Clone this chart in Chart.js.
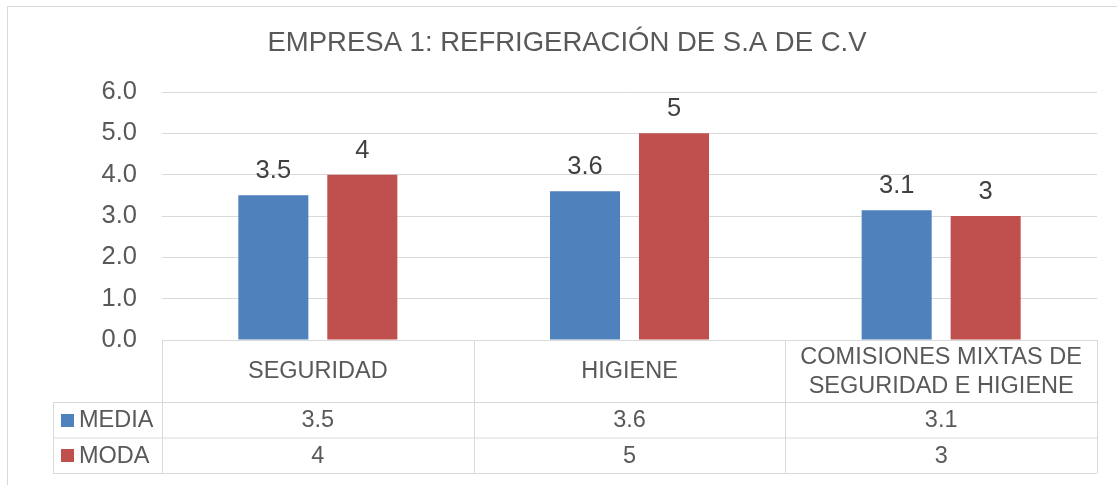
<!DOCTYPE html>
<html>
<head>
<meta charset="utf-8">
<script src="https://cdn.jsdelivr.net/npm/chart.js@4"></script>
<style>
  body { margin: 0; background: #fff; }
  #wrap { width: 1117px; height: 485px; position: relative; }
</style>
</head>
<body>
<div id="wrap"><canvas id="myChart"></canvas></div>
<script>
const categories = ["SEGURIDAD", "HIGIENE", ["COMISIONES MIXTAS DE", "SEGURIDAD E HIGIENE"]];
const seriesNames = ["MEDIA", "MODA"];
const media = [3.5, 3.6, 3.14];
const moda = [4, 5, 3];
const yTicks = [0, 1, 2, 3, 4, 5, 6];

const FONT = "'Liberation Sans', Arial, sans-serif";
const colors = ["#4F81BD", "#C0504D"];
const textColor = "#595959";
const lineColor = "#d9d9d9";

// media shows one decimal, moda as whole number
const fmt = [v => v.toFixed(1), v => String(v)];

const tablePlugin = {
  id: "tabla",
  afterDraw(chart) {
    const ctx = chart.ctx;
    const xs = chart.scales.x;
    const area = chart.chartArea;
    const n = categories.length;
    const catW = xs.width / n;
    const top = area.bottom;
    const headBottom = xs.bottom;
    const rowH = 35.5;
    const legLeft = 53;
    const bottom = headBottom + rowH * 2;

    ctx.save();
    // outer border of the chart object
    ctx.strokeStyle = lineColor;
    ctx.lineWidth = 1;
    ctx.strokeRect(7.5, 6.5, 1300, 700);

    // data labels above bars
    ctx.fillStyle = "#404040";
    ctx.font = "25.5px " + FONT;
    ctx.textAlign = "center";
    ctx.textBaseline = "alphabetic";
    chart.data.datasets.forEach((ds, d) => {
      chart.getDatasetMeta(d).data.forEach((bar, i) => {
        ctx.fillText(fmt[d](ds.data[i]), bar.x, bar.y - 17);
      });
    });

    // table grid
    ctx.beginPath();
    ctx.moveTo(xs.left, top + 0.5); ctx.lineTo(xs.right, top + 0.5);
    ctx.moveTo(legLeft, headBottom + 0.5); ctx.lineTo(xs.right, headBottom + 0.5);
    ctx.moveTo(legLeft, headBottom + rowH + 0.5); ctx.lineTo(xs.right, headBottom + rowH + 0.5);
    ctx.moveTo(legLeft, bottom + 0.5); ctx.lineTo(xs.right, bottom + 0.5);
    ctx.moveTo(legLeft + 0.5, headBottom); ctx.lineTo(legLeft + 0.5, bottom);
    for (let i = 0; i <= n; i++) {
      const px = Math.round(xs.left + i * catW) + 0.5;
      ctx.moveTo(px, top); ctx.lineTo(px, bottom);
    }
    ctx.stroke();

    // header labels
    ctx.fillStyle = textColor;
    ctx.font = "23.5px " + FONT;
    ctx.textBaseline = "middle";
    const headMid = (top + headBottom) / 2 + 1;
    categories.forEach((lab, i) => {
      const cx = xs.getPixelForValue(i);
      const lines = Array.isArray(lab) ? lab : [lab];
      lines.forEach((ln, k) => {
        ctx.fillText(ln, cx, headMid + (k - (lines.length - 1) / 2) * 28.5);
      });
    });

    // data rows with legend keys
    chart.data.datasets.forEach((ds, d) => {
      const cy = headBottom + rowH * d + rowH / 2 + 1;
      ctx.fillStyle = colors[d];
      ctx.fillRect(61, Math.round(cy - 7), 13, 13);
      ctx.fillStyle = textColor;
      ctx.textAlign = "left";
      ctx.fillText(seriesNames[d], 79, cy);
      ctx.textAlign = "center";
      ds.data.forEach((v, i) => {
        ctx.fillText(fmt[d](v), xs.getPixelForValue(i), cy);
      });
    });
    ctx.restore();
  }
};

const ctx = document.getElementById("myChart").getContext("2d");
const myChart = new Chart(ctx, {
  type: "bar",
  data: {
    labels: categories,
    datasets: [
      { label: seriesNames[0], data: media, backgroundColor: colors[0] },
      { label: seriesNames[1], data: moda, backgroundColor: colors[1] }
    ]
  },
  options: {
    responsive: true,
    maintainAspectRatio: false,
    animation: false,
    categoryPercentage: 0.571,
    barPercentage: 0.787,
    layout: { padding: { left: 37, right: 20, top: 0, bottom: 83 } },
    plugins: {
      legend: { display: false },
      tooltip: { enabled: false },
      title: {
        display: true,
        text: "EMPRESA 1: REFRIGERACIÓN DE S.A DE C.V",
        color: textColor,
        font: { family: FONT, size: 27.5, weight: "normal" },
        padding: { top: 27, bottom: 32 }
      }
    },
    scales: {
      x: {
        grid: { display: false },
        border: { display: false },
        ticks: { display: false },
        afterFit: scale => { scale.height = 62; }
      },
      y: {
        min: 0,
        max: 6,
        afterBuildTicks: scale => { scale.ticks = yTicks.map(v => ({ value: v })); },
        grid: { color: lineColor, drawTicks: false },
        border: { display: false },
        ticks: {
          color: textColor,
          padding: 25,
          font: { family: FONT, size: 25.5 },
          callback: v => v.toFixed(1)
        },
        afterFit: scale => { scale.width = 125; }
      }
    }
  },
  plugins: [tablePlugin]
});
</script>
</body>
</html>
